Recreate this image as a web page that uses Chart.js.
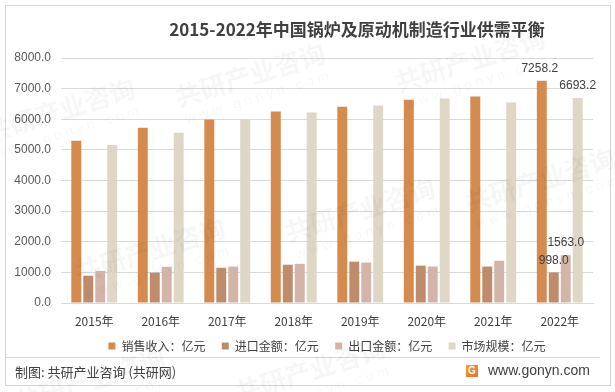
<!DOCTYPE html>
<html>
<head>
<meta charset="utf-8">
<script src="https://cdn.jsdelivr.net/npm/chart.js"></script>
<style>
  html, body { margin: 0; padding: 0; background: #fff; }
  #wrap { width: 615px; height: 392px; position: relative; }
</style>
</head>
<body>
<div id="wrap"><canvas id="myChart" width="615" height="392"></canvas></div>
<script>
// data (2022 values are labelled)
var years = ['2015年', '2016年', '2017年', '2018年', '2019年', '2020年', '2021年', '2022年'];
var sales = [5300, 5720, 5990, 6250, 6410, 6640, 6740, 7258.2];
var imports = [890, 990, 1150, 1250, 1350, 1220, 1190, 998.0];
var exports = [1050, 1180, 1190, 1280, 1320, 1190, 1380, 1563.0];
var market = [5160, 5560, 5980, 6220, 6450, 6680, 6550, 6693.2];
var yTicks = [0, 1000, 2000, 3000, 4000, 5000, 6000, 7000, 8000];

var FONT = '"Noto Sans CJK SC", "Noto Sans", sans-serif';

// frame, title, footer and the labels on the last year
var decor = {
    id: 'decor',
    beforeDraw: function (chart) {
        var c = chart.ctx;
        c.save();
        c.fillStyle = '#fff';
        c.fillRect(0, 0, chart.width, chart.height);
        c.strokeStyle = '#d4d4d4';
        c.lineWidth = 1;
        c.strokeRect(5.5, 5.5, 605, 380);
        c.beginPath();
        c.moveTo(5, 357.5);
        c.lineTo(600, 357.5);
        c.stroke();
        c.restore();
    },
    afterDraw: function (chart) {
        var c = chart.ctx;
        c.save();
        // title
        c.fillStyle = '#404040';
        c.font = 'bold 17px ' + FONT;
        c.textAlign = 'center';
        c.textBaseline = 'middle';
        c.fillText('2015-2022年中国锅炉及原动机制造行业供需平衡', 357, 30);

        // values on 2022 bars
        c.font = '12px "Liberation Sans", Arial, sans-serif';
        c.fillStyle = '#404040';
        chart.data.datasets.forEach(function (ds, i) {
            var meta = chart.getDatasetMeta(i);
            var last = ds.data.length - 1;
            var bar = meta.data[last];
            c.fillText(ds.data[last].toFixed(1), bar.x - (i === 0 ? 2 : 0), bar.y - 12);
        });

        // footer
        c.textAlign = 'left';
        c.font = '13px ' + FONT;
        c.fillStyle = '#404040';
        c.fillText('制图: 共研产业咨询 (共研网)', 15, 372);
        c.font = '14px "Liberation Sans", Arial, sans-serif';
        c.fillText('www.gonyn.com', 488, 371);
        // little logo
        var g = c.createLinearGradient(466, 364, 478, 378);
        g.addColorStop(0, '#f4a340');
        g.addColorStop(1, '#ee6a2c');
        c.fillStyle = g;
        c.fillRect(466, 365, 12, 12);
        c.fillStyle = '#fff';
        c.font = 'bold 10px "Liberation Sans", Arial, sans-serif';
        c.textAlign = 'center';
        c.fillText('G', 472, 371.5);

        // faint watermarks
        c.globalAlpha = 0.035;
        c.fillStyle = '#000';
        var marks = [[60, 110], [250, 75], [470, 60], [150, 250], [360, 210], [540, 180], [90, 380], [310, 370]];
        marks.forEach(function (m) {
            c.save();
            c.translate(m[0], m[1]);
            c.rotate(-0.3);
            c.font = 'bold 26px ' + FONT;
            c.fillText('共研产业咨询', 0, 0);
            c.font = '14px "Liberation Sans", Arial, sans-serif';
            c.fillText('w w w . g o n y n . c o m', 0, 24);
            c.restore();
        });
        c.restore();
    }
};

var ctx = document.getElementById('myChart').getContext('2d');

var myChart = new Chart(ctx, {
    type: 'bar',
    data: {
        labels: years,
        datasets: [
            { label: '销售收入：亿元', data: sales, backgroundColor: '#d48b4d' },
            { label: '进口金额：亿元', data: imports, backgroundColor: '#bf8c6b' },
            { label: '出口金额：亿元', data: exports, backgroundColor: '#d3b4a8' },
            { label: '市场规模：亿元', data: market, backgroundColor: '#ded7c5' }
        ]
    },
    options: {
        responsive: false,
        animation: false,
        devicePixelRatio: 1,
        layout: { padding: { left: 0, right: 22, top: 58, bottom: 30 } },
        datasets: {
            bar: { categoryPercentage: 0.72, barPercentage: 0.83 }
        },
        plugins: {
            legend: {
                position: 'bottom',
                fullSize: false,
                labels: {
                    boxWidth: 7,
                    boxHeight: 7,
                    padding: 11,
                    color: '#404040',
                    font: { family: FONT, size: 12 },
                    // extra spacing between items, padding alone is also vertical
                    generateLabels: function (chart) {
                        var items = Chart.defaults.plugins.legend.labels.generateLabels(chart);
                        items.forEach(function (it, i) {
                            if (i < items.length - 1) it.text = it.text + '  ';
                        });
                        return items;
                    }
                }
            },
            tooltip: { enabled: false }
        },
        scales: {
            x: {
                grid: { display: false },
                border: { color: '#d9d9d9' },
                ticks: {
                    color: '#404040',
                    padding: 3,
                    font: { family: FONT, size: 12 }
                },
                afterFit: function (scale) { scale.height = 26; }
            },
            y: {
                min: 0,
                max: 8000,
                afterBuildTicks: function (scale) {
                    scale.ticks = yTicks.map(function (v) { return { value: v }; });
                },
                grid: { color: '#d9d9d9', drawTicks: false },
                border: { display: false },
                ticks: {
                    color: '#595959',
                    padding: 10,
                    font: { family: '"Liberation Sans", Arial, sans-serif', size: 12 },
                    callback: function (v) { return Number(v).toFixed(1); }
                },
                afterFit: function (scale) { scale.width = 61; }
            }
        }
    },
    plugins: [decor]
});
</script>
</body>
</html>
